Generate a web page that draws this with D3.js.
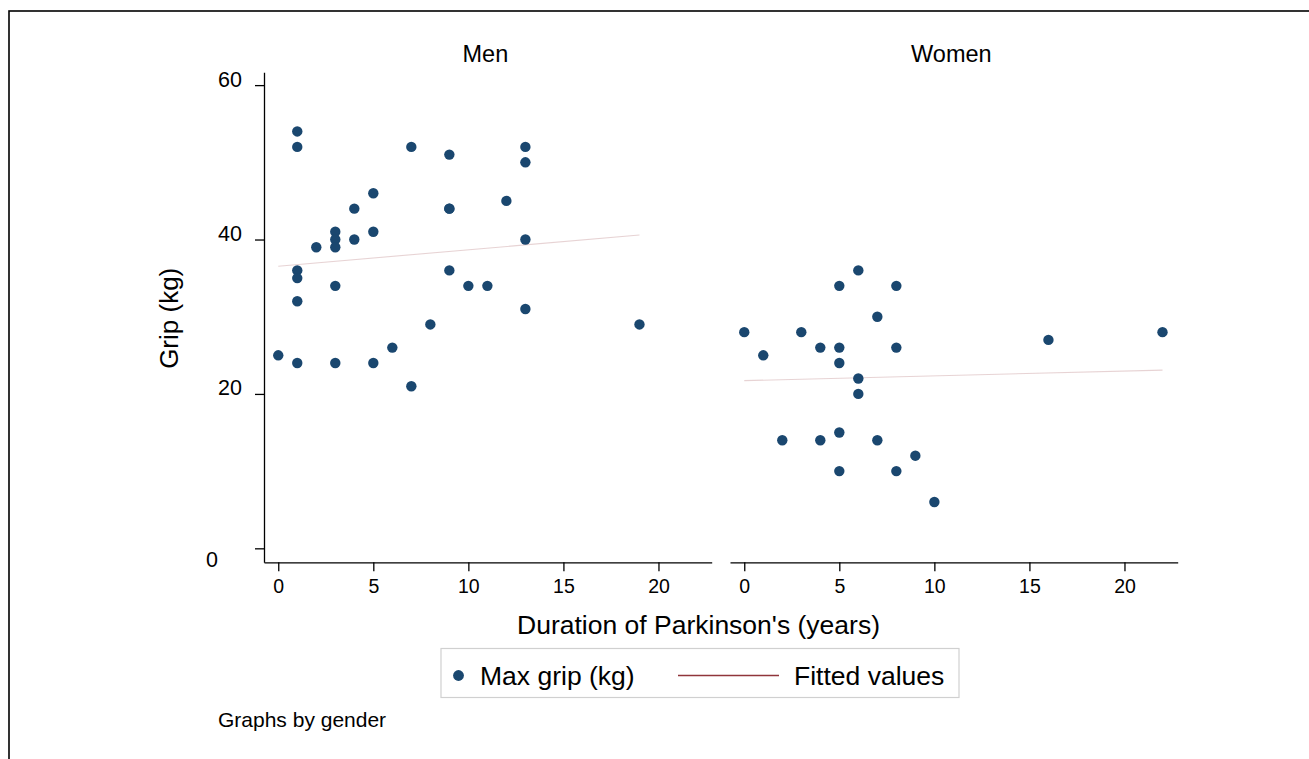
<!DOCTYPE html>
<html>
<head>
<meta charset="utf-8">
<script src="https://cdn.jsdelivr.net/npm/d3@7"></script>
<style>
  html, body { margin: 0; padding: 0; background: #fff; }
  svg { display: block; font-family: "Liberation Sans", Arial, Helvetica, sans-serif; }
</style>
</head>
<body>
<svg id="chart" width="1309" height="759"></svg>
<script>
// Grip strength vs. duration of Parkinson's, split by gender
const panels = ["Men", "Women"];

const menDuration = [0, 1, 1, 1, 1, 1, 1, 2, 3, 3, 3, 3, 3, 4, 4, 5, 5, 5, 6, 7, 7, 8, 9, 9, 9, 9, 10, 11, 12, 13, 13, 13, 13, 19];
const menGrip     = [25, 54, 52, 36, 35, 32, 24, 39, 41, 40, 39, 34, 24, 44, 40, 46, 41, 24, 26, 52, 21, 29, 51, 44, 44, 36, 34, 34, 45, 52, 50, 40, 31, 29];

const womenDuration = [0, 1, 2, 3, 4, 4, 5, 5, 5, 5, 5, 6, 6, 6, 7, 7, 8, 8, 8, 9, 10, 16, 22];
const womenGrip     = [28, 25, 14, 28, 26, 14, 34, 26, 24, 15, 10, 36, 22, 20, 30, 14, 34, 26, 10, 12, 6, 27, 28];

const xTicks = [0, 5, 10, 15, 20];
const yTicks = [0, 20, 40, 60];

const yTitle = "Grip (kg)";
const xTitle = "Duration of Parkinson's (years)";
const legendLabels = ["Max grip (kg)", "Fitted values"];
const note = "Graphs by gender";

const markerColor = "#1a476f";
const fitColor = "#90353b";

// Ordinary least squares fit, returned as the two end points over the data range
function linearFit(xs, ys) {
  const n = xs.length;
  const mx = d3.mean(xs), my = d3.mean(ys);
  let sxy = 0, sxx = 0;
  for (let i = 0; i < n; i++) {
    sxy += (xs[i] - mx) * (ys[i] - my);
    sxx += (xs[i] - mx) * (xs[i] - mx);
  }
  const b = sxy / sxx, a = my - b * mx;
  const [x0, x1] = d3.extent(xs);
  return [[x0, a + b * x0], [x1, a + b * x1]];
}

const panelData = [
  { name: panels[0], x: menDuration, y: menGrip, range: [264, 711.7] },
  { name: panels[1], x: womenDuration, y: womenGrip, range: [730, 1177.7] }
];

const svg = d3.select("#chart");

// outer frame
svg.append("rect")
  .attr("x", 9).attr("y", 11)
  .attr("width", 1400).attr("height", 900)
  .attr("fill", "none").attr("stroke", "#000").attr("stroke-width", 1.6);

const y = d3.scaleLinear().domain([-1.81, 61.66]).range([562.3, 72.3]);

panelData.forEach((p, i) => {
  const x = d3.scaleLinear().domain([-0.75, 22.8]).range(p.range);
  const g = svg.append("g");

  // x axis
  const xAxis = g.append("g")
    .attr("transform", `translate(0,${y.range()[0]})`)
    .call(d3.axisBottom(x).tickValues(xTicks).tickSize(9).tickPadding(8).tickSizeOuter(0));
  xAxis.select(".domain").attr("stroke", "#000").attr("stroke-width", 1.3);
  xAxis.selectAll(".tick line").attr("stroke", "#000").attr("stroke-width", 1.3);
  xAxis.selectAll(".tick text")
    .attr("fill", "#000").attr("font-size", 19.5)
    .attr("font-family", "Liberation Sans, Arial, sans-serif");

  // y axis on the first panel only
  if (i === 0) {
    const yAxis = g.append("g")
      .attr("transform", `translate(${p.range[0]},0)`)
      .call(d3.axisLeft(y).tickValues(yTicks).tickSize(9).tickPadding(13).tickSizeOuter(0));
    yAxis.select(".domain").attr("stroke", "#000").attr("stroke-width", 1.3);
    yAxis.selectAll(".tick line").attr("stroke", "#000").attr("stroke-width", 1.3);
    yAxis.selectAll(".tick text")
      .attr("fill", "#000").attr("font-size", 21.5)
      .attr("font-family", "Liberation Sans, Arial, sans-serif")
      .attr("dy", 0)
      .attr("y", d => d === 0 ? 18 : 1)
      .attr("x", d => d === 0 ? -46 : -22);
  }

  // panel title
  g.append("text")
    .attr("x", (p.range[0] + p.range[1]) / 2 - 2.5)
    .attr("y", 62)
    .attr("text-anchor", "middle")
    .attr("font-size", 23.5)
    .text(p.name);

  // fitted line
  const fit = linearFit(p.x, p.y);
  g.append("line")
    .attr("x1", x(fit[0][0])).attr("y1", y(fit[0][1]))
    .attr("x2", x(fit[1][0])).attr("y2", y(fit[1][1]))
    .attr("stroke", fitColor).attr("stroke-width", 1.1).attr("stroke-opacity", 0.22);

  // points
  g.selectAll("circle")
    .data(p.x.map((d, k) => [d, p.y[k]]))
    .join("circle")
    .attr("cx", d => x(d[0]))
    .attr("cy", d => y(d[1]))
    .attr("r", 5.2)
    .attr("fill", markerColor);
});

// axis titles
svg.append("text")
  .attr("transform", `translate(178,${(72.3 + 562.3) / 2 + 1}) rotate(-90)`)
  .attr("text-anchor", "middle")
  .attr("font-size", 26)
  .text(yTitle);

svg.append("text")
  .attr("x", 698.5).attr("y", 634)
  .attr("text-anchor", "middle")
  .attr("font-size", 26.5)
  .text(xTitle);

// legend
const lg = svg.append("g");
lg.append("rect")
  .attr("x", 441).attr("y", 648.5)
  .attr("width", 518).attr("height", 49)
  .attr("fill", "#fff").attr("stroke", "#d0d0d0").attr("stroke-width", 1.2);
lg.append("circle")
  .attr("cx", 458.5).attr("cy", 675.5).attr("r", 5.4).attr("fill", markerColor);
lg.append("text")
  .attr("x", 480).attr("y", 684.5)
  .attr("font-size", 26.5)
  .text(legendLabels[0]);
lg.append("line")
  .attr("x1", 678).attr("x2", 779).attr("y1", 675.5).attr("y2", 675.5)
  .attr("stroke", fitColor).attr("stroke-width", 1.4);
lg.append("text")
  .attr("x", 794).attr("y", 684.5)
  .attr("font-size", 26.5)
  .text(legendLabels[1]);

// note
svg.append("text")
  .attr("x", 218).attr("y", 727)
  .attr("font-size", 21)
  .text(note);
</script>
</body>
</html>
